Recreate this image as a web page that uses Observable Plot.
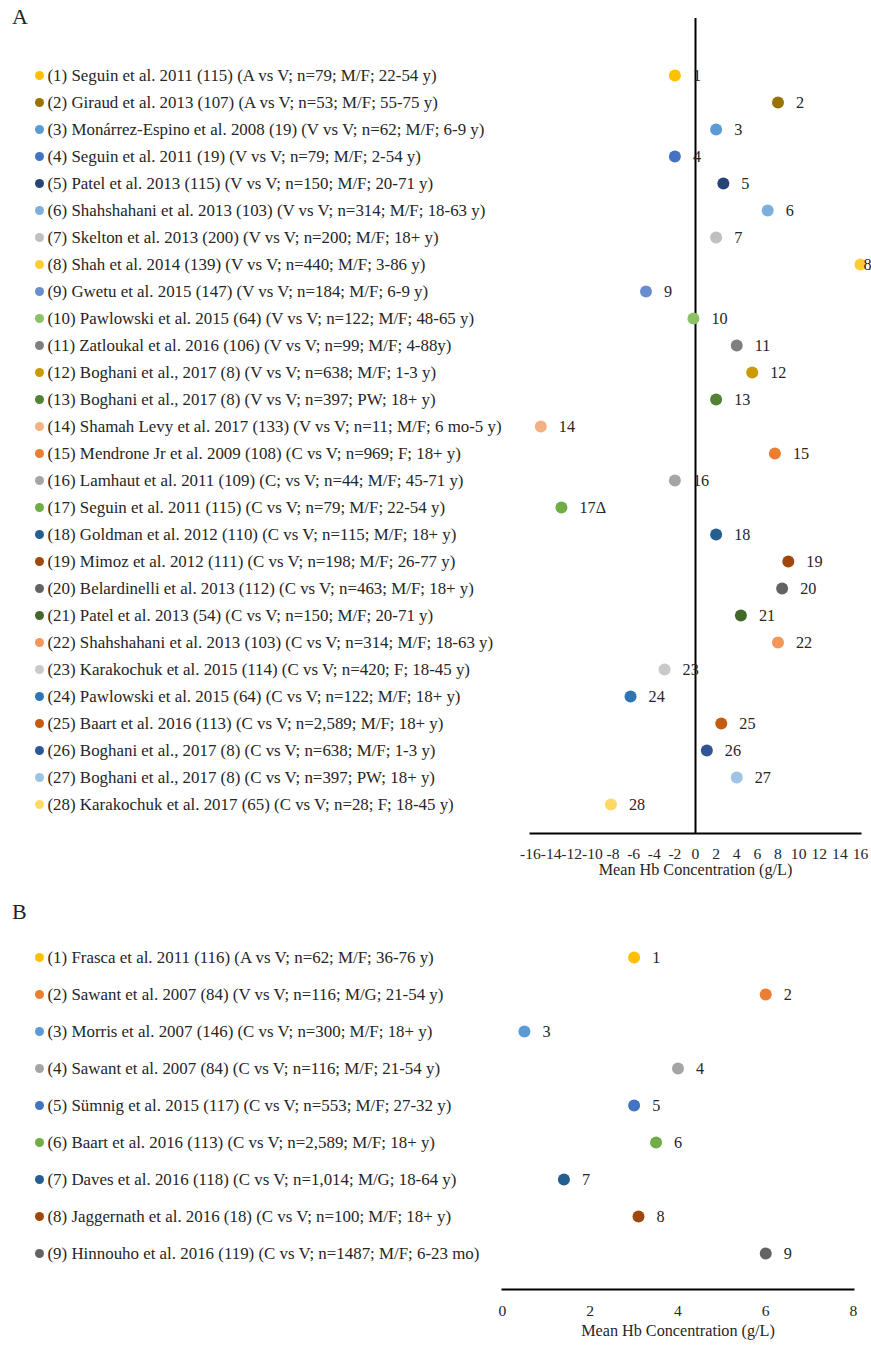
<!DOCTYPE html>
<html><head><meta charset="utf-8">
<script src="https://cdn.jsdelivr.net/npm/d3@7"></script>
<script src="https://cdn.jsdelivr.net/npm/@observablehq/plot@0.6"></script>
<style>
body{margin:0;background:#fff;font-family:"Liberation Serif","Times New Roman",serif;}
.panel{position:relative;width:871px;}
.tag{position:absolute;left:12px;font-size:22px;color:#222;line-height:26px;}
svg{display:block}
</style></head><body>
<div id="a" class="panel"><div class="tag" style="top:4px">A</div></div>
<div id="b" class="panel"><div class="tag" style="top:14px">B</div></div>
<script>
// ---- Panel A data ----
const studiesA = [
"(1) Seguin et al. 2011 (115) (A vs V; n=79; M/F; 22-54 y)",
"(2) Giraud et al. 2013 (107) (A vs V; n=53; M/F; 55-75 y)",
"(3) Monárrez-Espino et al. 2008 (19) (V vs V; n=62; M/F; 6-9 y)",
"(4) Seguin et al. 2011 (19) (V vs V; n=79; M/F; 2-54 y)",
"(5) Patel et al. 2013 (115) (V vs V; n=150; M/F; 20-71 y)",
"(6) Shahshahani et al. 2013 (103) (V vs V; n=314; M/F; 18-63 y)",
"(7) Skelton et al. 2013 (200) (V vs V; n=200; M/F; 18+ y)",
"(8) Shah et al. 2014 (139) (V vs V; n=440; M/F; 3-86 y)",
"(9) Gwetu et al. 2015 (147) (V vs V; n=184; M/F; 6-9 y)",
"(10) Pawlowski et al. 2015 (64) (V vs V; n=122; M/F; 48-65 y)",
"(11) Zatloukal et al. 2016 (106) (V vs V; n=99; M/F; 4-88y)",
"(12) Boghani et al., 2017 (8) (V vs V; n=638; M/F; 1-3 y)",
"(13) Boghani et al., 2017 (8) (V vs V; n=397; PW; 18+ y)",
"(14) Shamah Levy et al. 2017 (133) (V vs V; n=11; M/F; 6 mo-5 y)",
"(15) Mendrone Jr et al. 2009 (108) (C vs V; n=969; F; 18+ y)",
"(16) Lamhaut et al. 2011 (109) (C; vs V; n=44; M/F; 45-71 y)",
"(17) Seguin et al. 2011 (115) (C vs V; n=79; M/F; 22-54 y)",
"(18) Goldman et al. 2012 (110) (C vs V; n=115; M/F; 18+ y)",
"(19) Mimoz et al. 2012 (111) (C vs V; n=198; M/F; 26-77 y)",
"(20) Belardinelli et al. 2013 (112) (C vs V; n=463; M/F; 18+ y)",
"(21) Patel et al. 2013 (54) (C vs V; n=150; M/F; 20-71 y)",
"(22) Shahshahani et al. 2013 (103) (C vs V; n=314; M/F; 18-63 y)",
"(23) Karakochuk et al. 2015 (114) (C vs V; n=420; F; 18-45 y)",
"(24) Pawlowski et al. 2015 (64) (C vs V; n=122; M/F; 18+ y)",
"(25) Baart et al. 2016 (113) (C vs V; n=2,589; M/F; 18+ y)",
"(26) Boghani et al., 2017 (8) (C vs V; n=638; M/F; 1-3 y)",
"(27) Boghani et al., 2017 (8) (C vs V; n=397; PW; 18+ y)",
"(28) Karakochuk et al. 2017 (65) (C vs V; n=28; F; 18-45 y)"
];
const valuesA = [-2, 8, 2, -2, 2.7, 7, 2, 16, -4.8, -0.2, 4, 5.5, 2, -15, 7.7, -2, -13, 2, 9, 8.4, 4.4, 8, -3, -6.3, 2.5, 1.1, 4, -8.2];
const colorsA = ["#FFC000","#997300","#5B9BD5","#4472C4","#264478","#7CAFDD","#BFBFBF","#FFCD33","#698ED0","#8CC168",
"#7F7F7F","#CC9900","#548235","#F4B183","#ED7D31","#A5A5A5","#70AD47","#255E91","#9E480E","#636363",
"#43682B","#F1975A","#C9C9C9","#2E75B6","#C55A11","#2F5597","#9DC3E6","#FFD966"];
const tagsA = ["1","2","3","4","5","6","7","8","9","10","11","12","13","14","15","16","17Δ","18","19","20","21","22","23","24","25","26","27","28"];
const ticksA = [-16,-14,-12,-10,-8,-6,-4,-2,0,2,4,6,8,10,12,14,16];

// ---- Panel B data ----
const studiesB = [
"(1) Frasca et al. 2011 (116) (A vs V; n=62; M/F; 36-76 y)",
"(2) Sawant et al. 2007 (84) (V vs V; n=116; M/G; 21-54 y)",
"(3) Morris et al. 2007 (146) (C vs V; n=300; M/F; 18+ y)",
"(4) Sawant et al. 2007 (84) (C vs V; n=116; M/F; 21-54 y)",
"(5) Sümnig et al. 2015 (117) (C vs V; n=553; M/F; 27-32 y)",
"(6) Baart et al. 2016 (113) (C vs V; n=2,589; M/F; 18+ y)",
"(7) Daves et al. 2016 (118) (C vs V; n=1,014; M/G; 18-64 y)",
"(8) Jaggernath et al. 2016 (18) (C vs V; n=100; M/F; 18+ y)",
"(9) Hinnouho et al. 2016 (119) (C vs V; n=1487; M/F; 6-23 mo)"
];
const valuesB = [3, 6, 0.5, 4, 3, 3.5, 1.4, 3.1, 6];
const colorsB = ["#FFC000","#ED7D31","#5B9BD5","#A5A5A5","#4472C4","#70AD47","#255E91","#9E480E","#636363"];
const tagsB = ["1","2","3","4","5","6","7","8","9"];
const ticksB = [0, 2, 4, 6, 8];

const xTitle = "Mean Hb Concentration (g/L)";
const serif = '"Liberation Serif","Times New Roman",serif';
const ink = "#262626";
const fs = 16.2;      // point tags, axis title
const fsLegend = 16.9; // study list
const fsTick = 15.6;

const idsA = d3.range(1, studiesA.length + 1);
const dataA = idsA.map((id, i) => ({id, study: studiesA[i], value: valuesA[i], color: colorsA[i], tag: tagsA[i]}));
const idsB = d3.range(1, studiesB.length + 1);
const dataB = idsB.map((id, i) => ({id, study: studiesB[i], value: valuesB[i], color: colorsB[i], tag: tagsB[i]}));

// the point at the right edge keeps its label tucked against the frame edge
const edgeA = dataA.filter(d => d.value >= 16);
const innerA = dataA.filter(d => d.value < 16);

const plotA = Plot.plot({
  width: 871, height: 885,
  marginLeft: 530, marginRight: 11, marginTop: 18, marginBottom: 52,
  style: {fontFamily: serif, fontSize: fs + "px", color: ink, background: "white"},
  x: {domain: [-16, 16]},
  y: {type: "point", domain: idsA, range: [72, 806], padding: 0, axis: null},
  color: {type: "identity"},
  marks: [
    Plot.axisX({ticks: ticksA, tickFormat: d => String(d), tickSize: 0, tickPadding: 14, label: null, fontSize: fsTick, fill: ink}),
    Plot.ruleX([0], {stroke: "#000", strokeWidth: 2}),
    Plot.frame({anchor: "bottom", stroke: "#000", strokeWidth: 2}),
    Plot.dot(dataA, {x: "value", y: "id", r: 6, fill: "color"}),
    Plot.text(innerA, {x: "value", y: "id", text: "tag", dx: 18, textAnchor: "start", fontSize: fs, fill: ink}),
    Plot.text(edgeA, {x: "value", y: "id", text: "tag", dx: 3, textAnchor: "start", fontSize: fs, fill: ink}),
    Plot.dot(dataA, {y: "id", frameAnchor: "left", dx: -491, r: 4.5, fill: "color"}),
    Plot.text(dataA, {y: "id", text: "study", frameAnchor: "left", dx: -483, textAnchor: "start", fontSize: fsLegend, fill: ink}),
    Plot.text([xTitle], {frameAnchor: "bottom", dy: 41, fontSize: fs, fill: ink})
  ]
});
document.getElementById("a").appendChild(plotA);

const plotB = Plot.plot({
  width: 871, height: 462,
  marginLeft: 502, marginRight: 18, marginTop: 40, marginBottom: 58,
  style: {fontFamily: serif, fontSize: fs + "px", color: ink, background: "white"},
  x: {domain: [0, 8]},
  y: {type: "point", domain: idsB, range: [70, 369], padding: 0, axis: null},
  color: {type: "identity"},
  marks: [
    Plot.axisX({ticks: ticksB, tickFormat: d => String(d), tickSize: 0, tickPadding: 15, label: null, fontSize: fsTick, fill: ink}),
    Plot.frame({anchor: "bottom", stroke: "#000", strokeWidth: 2}),
    Plot.dot(dataB, {x: "value", y: "id", r: 6, fill: "color"}),
    Plot.text(dataB, {x: "value", y: "id", text: "tag", dx: 18, textAnchor: "start", fontSize: fs, fill: ink}),
    Plot.dot(dataB, {y: "id", frameAnchor: "left", dx: -463, r: 4.5, fill: "color"}),
    Plot.text(dataB, {y: "id", text: "study", frameAnchor: "left", dx: -455, textAnchor: "start", fontSize: fsLegend, fill: ink}),
    Plot.text([xTitle], {frameAnchor: "bottom", dy: 46, fontSize: fs, fill: ink})
  ]
});
document.getElementById("b").appendChild(plotB);
</script>
</body></html>
